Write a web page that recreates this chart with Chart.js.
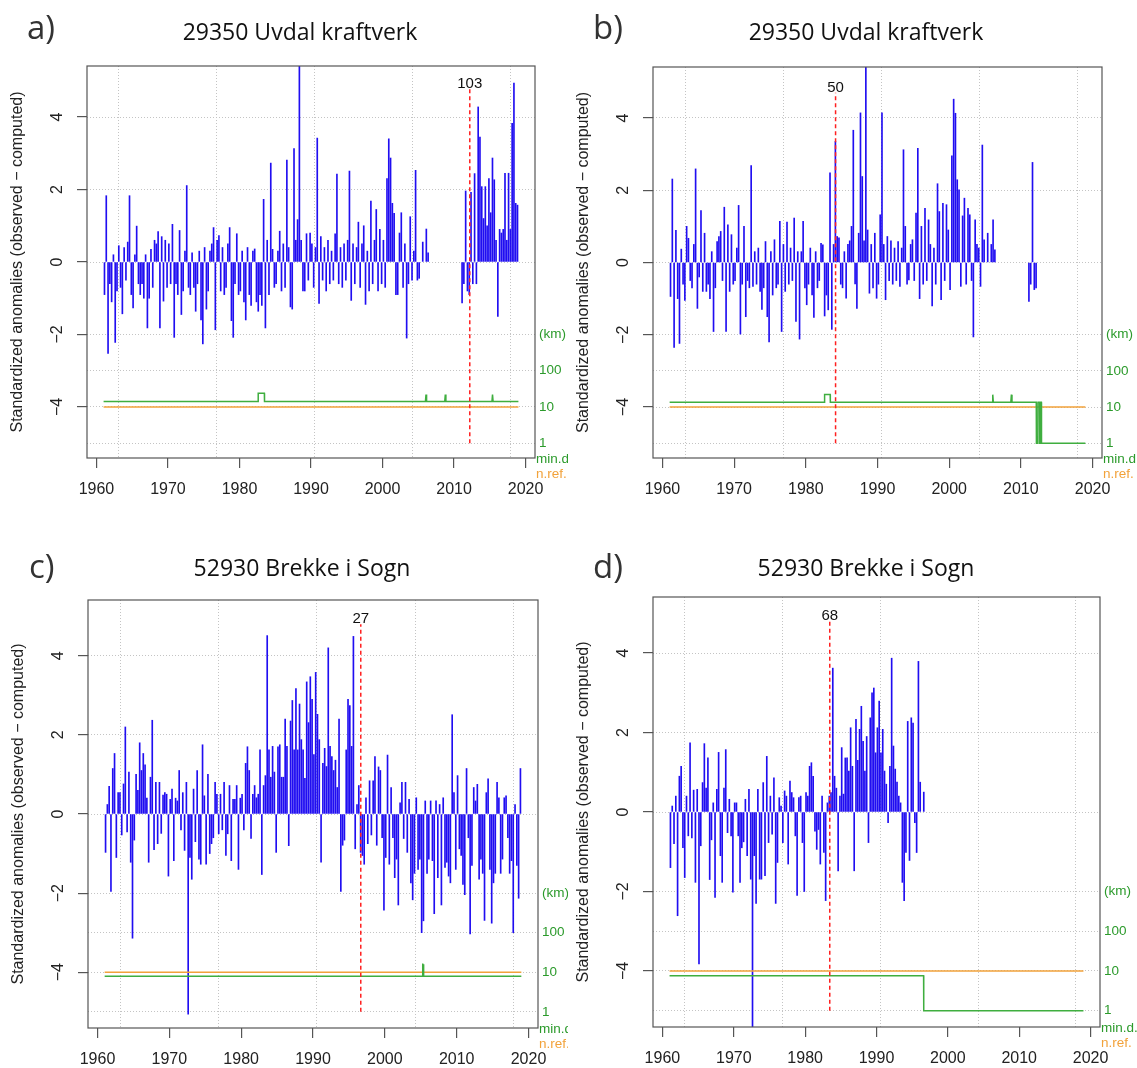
<!DOCTYPE html>
<html>
<head>
<meta charset="utf-8">
<title>Standardized anomalies</title>
<script src="https://cdn.jsdelivr.net/npm/chart.js@4.4.1/dist/chart.umd.min.js"></script>
<style>
  body { margin: 0; background: #fff; }
  #page { position: relative; width: 1137px; height: 1068px; overflow: hidden; background: #fff; }
  canvas { position: absolute; }
  .tag { position: absolute; font-family: 'Open Sans', sans-serif; font-size: 33px; line-height: 1; color: #333; }
  .ttl { position: absolute; font-family: 'Open Sans', sans-serif; font-size: 23px; line-height: 1; color: #111; white-space: nowrap; transform: translateX(-50%); }
</style>
</head>
<body>
<div id="page">
  <canvas id="cv-a" width="568" height="530" style="left:0;top:0"></canvas>
  <canvas id="cv-b" width="569" height="530" style="left:568px;top:0"></canvas>
  <canvas id="cv-c" width="568" height="538" style="left:0;top:530px"></canvas>
  <canvas id="cv-d" width="569" height="538" style="left:568px;top:530px"></canvas>

  <div class="tag" style="left:27px;top:10px">a)</div>
  <div class="ttl" style="left:300px;top:20px">29350 Uvdal kraftverk</div>
  <div class="tag" style="left:593px;top:10px">b)</div>
  <div class="ttl" style="left:866px;top:20px">29350 Uvdal kraftverk</div>
  <div class="tag" style="left:29px;top:549px">c)</div>
  <div class="ttl" style="left:302px;top:556px">52930 Brekke i Sogn</div>
  <div class="tag" style="left:593px;top:549px">d)</div>
  <div class="ttl" style="left:866px;top:556px">52930 Brekke i Sogn</div>
</div>

<script>
// ── data ─────────────────────────────────────────────
// quarterly anomalies, starting 1961 (one row = one year)
const startYear = 1961;
const perYear = 4;

const anomA = [
  -0.9, 1.83, -2.52, -0.6,   -1.1, 0.2, -2.22, -0.8,    0.45, -0.7, -1.43, 0.4,   -0.5, 0.55, 1.83, -0.9,
  -1.27, 0.2, 0.99, -0.6,    -0.9, -0.6, -1.0, 0.2,     -1.82, -1.0, 0.35, -0.7,  0.6, 0.5, 0.84, -1.82,
  0.7, -1.08, 0.6, -0.7,     0.5, -0.6, 1.04, -2.08,    -0.6, -0.9, 0.87, -1.45,  -0.8, 0.3, 2.11, -0.7,
  -0.9, 0.25, -0.7, -1.36,   -0.6, 0.3, -1.6, -2.26,    0.4, -1.3, -0.8, 0.3,     0.5, 0.95, -1.87, 0.6,
  0.73, -0.8, 0.4, -0.9,     -0.7, 0.5, 0.95, -1.62,    -2.08, -0.6, 0.78, -0.9,  -0.8, 0.3, -1.1, -1.6,
  0.4, -0.9, -1.2, 0.3,      0.36, -1.1, -1.36, -0.9,   -1.2, 1.73, -1.82, 0.6,   -0.9, 2.73, 0.35, -0.7,
  -0.6, 0.3, 0.85, -0.8,     0.5, -0.7, 2.81, 0.4,      -1.24, -1.3, 3.13, 0.6,   1.17, 5.5, 0.6, -0.8,
  -0.8, 0.78, -0.5, 0.8,     0.5, -0.7, 0.4, 3.42,      -1.14, 0.7, -0.5, 0.4,    -0.8, 0.6, -0.6, 0.3,
  -0.5, 0.78, 2.43, -0.6,    0.4, -0.7, 0.5, -0.5,      0.6, 2.51, -1.06, 0.5,    -0.6, 0.4, 1.1, -0.7,
  0.5, 1.0, -1.17, 0.3,      -0.8, 1.68, -0.6, 0.6,     1.45, -0.8, 0.9, -0.6,    0.6, -0.7, 2.3, 3.4,
  2.87, 1.62, 1.34, -0.9,    -0.9, 0.8, 1.36, -0.7,     0.5, -2.1, -0.6, 1.25,    -0.5, 0.3, 2.53, -0.5,
  -0.45, null, 0.55, null,   0.91, 0.25, null, null,
  null, null, null, null,    null, null, null, null,    null, null, null, null,   null, null, null, null,
  -1.13, -0.6, 1.96, -0.8,   -0.9, 1.92, -0.6, 2.44,    -0.6, 4.28, 3.45, 2.08,   1.2, 2.08, 1.0, 2.3,
  1.36, 2.87, 2.27, 0.6,     -1.5, 0.9, 0.8, 0.9,       2.45, 0.6, 2.45, 0.9,     3.83, 4.94, 1.62, 1.57
];

const anomB = [
  -0.94, 2.31, -2.35, 0.89,  -1.0, -2.24, 0.37, -0.6,   -1.05, 1.0, 0.67, -0.5,   -0.7, 0.5, 2.59, -1.27,
  -0.4, 1.44, -0.8, 0.81,    -0.8, -0.6, -1.0, 0.3,     -1.91, -0.7, 0.58, 0.72,  0.86, -0.5, 1.53, -1.91,
  1.04, -0.8, 0.77, -0.6,    -0.5, 0.4, 1.58, -1.98,    -0.6, 1.0, -1.5, -0.5,    -0.7, 2.68, -0.66, 0.3,
  -0.6, 0.4, -0.8, -1.3,     -0.7, 0.58, -1.5, -2.2,    0.3, -0.9, 0.63, -0.7,    -0.6, 1.14, -1.91, 0.5,
  -0.8, 1.12, -0.6, 0.4,     -0.5, 1.23, -1.63, 0.3,    -2.12, 0.3, 1.14, -0.7,   -1.17, -0.6, 0.4, -0.9,
  -1.52, 0.3, -0.7, -0.5,    0.53, 0.49, -1.48, -0.9,   -1.31, 2.48, -1.85, 0.5,  3.35, 0.72, 0.68, -0.6,
  -0.7, 0.3, -0.99, 0.5,     0.6, 1.0, 3.66, -0.59,     -1.27, 0.81, 4.14, 2.38,  0.6, 5.6, 0.9, -0.85,
  0.5, -0.7, 0.81, -0.99,    -0.6, 1.32, 4.14, 0.5,     -1.03, 0.72, -0.5, 0.6,   -0.6, 0.4, -0.5, 0.58,
  -0.66, 0.4, 3.12, 1.0,     -0.6, -0.48, 0.5, 0.63,    -0.5, 1.37, 3.16, -1.0,   1.0, -0.6, 1.5, -0.5,
  1.18, 0.5, -1.2, 0.4,      -0.6, 2.18, 1.41, -1.03,   1.64, -0.5, 1.6, 0.9,     -0.75, 2.95, 4.52, 4.13,
  2.29, 2.01, -0.66, 1.29,   1.78, -0.6, 1.5, 1.32,     -0.5, -2.06, 1.18, 0.5,   0.4, -0.66, 3.25, 0.63,
  null, 0.81, null, 0.5,     1.18, 0.35, null, null,
  null, null, null, null,    null, null, null, null,    null, null, null, null,   null, null, null, null,
  -1.08, -0.6, 2.77, -0.75,  -0.7
];

const anomC = [
  -0.97, 0.24, 0.7, -1.96,   1.15, 1.53, -1.1, 0.54,    0.54, -0.53, 0.76, 2.2,   -0.45, 1.06, -1.22, -3.14,
  -0.66, 1.0, 0.6, 1.8,      1.1, 1.53, 1.24, 0.4,      -1.22, 0.93, 2.37, -0.9,  0.8, -0.75, 0.8, -0.49,
  0.48, 0.54, 0.5, -1.57,    0.37, 0.63, -1.18, 0.4,    0.33, 1.1, -0.4, 0.54,    -0.92, 0.8, -5.06, -1.1,
  -1.65, 0.63, -0.7, 1.1,    -1.14, -1.27, 1.75, 0.46,  -1.27, 1.0, -1.0, -0.75,  -0.6, 0.8, 0.5, -0.5,
  0.5, -0.4, 0.8, -1.05,     -0.5, 0.72, -1.18, 0.37,   0.37, 0.72, -1.4, 0.4,    0.5, -0.4, 1.28, 1.7,
  1.1, -0.62, 0.5, 0.72,     0.41, 0.5, 1.62, -1.53,    0.72, 0.97, 4.51, 1.62,   0.93, 1.71, 1.06, -0.97,
  1.7, 1.75, 0.93, 0.93,     2.4, 1.71, -0.8, 2.35,     2.87, 1.62, 3.17, 1.62,   2.78, 1.88, 1.62, 0.9,
  3.34, 2.31, 3.47, 2.9,     1.5, 3.58, 2.52, 1.88,     -1.22, 1.28, 1.66, 1.2,   4.2, 1.71, 1.45, 1.1,
  1.36, 0.67, 2.4, -1.96,    -0.79, -0.66, 1.62, 2.9,   2.74, 1.71, 4.49, -0.88,  0.24, 0.72, -0.97, -1.05,
  -1.27, 0.41, -0.75, 0.84,  -0.53, 0.84, 1.45, -0.79,  1.19, 1.1, -0.6, -2.43,   -1.1, 1.49, -1.27, 0.67,
  -0.6, -1.61, -1.14, -2.3,  0.28, 0.8, -0.62, 0.8,     -0.97, 0.37, -1.74, -2.17, -1.5, 0.41, -1.4, -1.14,
  -3.0, -2.7, 0.33, -1.5,    -1.14, 0.33, -1.18, -2.52, 0.33, -1.61, 0.24, -2.3,  0.41, -1.35, -1.22, -1.57,
  -1.74, 2.51, 0.54, -1.4,   0.97, -0.88, -1.05, -1.78, -2.04, 1.15, -0.6, -3.03, -1.3, 0.67, 0.33, 0.75,
  -1.65, -1.14, -1.5, -2.69, 0.54, 0.89, -1.4, -2.76,   -1.74, -1.5, 0.8, 0.41,   -1.5, -1.14, 0.41, 0.46,
  -0.6, -1.5, -1.18, -3.0,   0.24, -1.3, -2.13, 1.15
];

const anomD = [
  -1.4, 0.15, -0.8, 0.4,     -2.61, 0.9, 1.15, -0.9,    -1.65, 0.4, -0.6, 1.74,   -0.65, 0.55, -1.77, 0.57,
  -3.82, -0.85, 0.74, 1.72,  0.6, 1.36, -1.7, -0.7,     0.23, -2.15, 0.57, 1.5,   -1.1, -1.77, 0.6, 1.57,
  -0.52, 0.32, -0.6, -2.02,  0.23, 0.23, -0.6, -1.77,   -0.9, -0.75, 0.32, -1.1,  0.57, -1.69, -5.45, -1.1,
  -2.3, 0.57, -1.69, -1.69,  0.74, -1.6, 1.4, -0.77,    0.4, -0.56, 0.86, -2.3,   -1.27, 0.36, 0.15, -0.77,
  0.53, 0.4, -1.31, 0.78,    0.49, 0.36, -0.6, -2.1,    0.36, 0.4, -0.77, -2.0,   0.49, 0.4, 1.15, 1.24,
  0.9, -0.48, -0.94, -0.44,  -1.31, 0.4, -1.02, -2.23,  0.23, 0.4, 0.49, 3.62,    0.9, 0.6, -1.48, 0.4,
  1.62, 0.45, 1.36, 1.36,    1.03, 2.12, 1.15, -1.48,   2.33, 1.3, 2.08, 2.66,    1.78, 1.03, 1.9, -0.77,
  2.37, 3.0, 3.12, 1.49,     2.12, 2.79, 1.49, 2.08,    1.03, 0.7, -0.27, 1.15,   3.87, 1.66, 1.08, 0.75,
  0.4, 0.23, -1.77, -2.23,   -1.02, 2.28, -1.22, 2.37,  2.24, -0.27, -1.02, 3.79, 0.75, null, 0.5
];

// minimum distance to references (km), right axis
const minDYearsA = [1961, 1982.6, 1982.62, 1983.48, 1983.5, 2006.0, 2006.08, 2006.16, 2008.7, 2008.78, 2008.86, 2015.3, 2015.38, 2015.46, 2019];
const minDKmA    = [14, 14, 24, 24, 14, 14, 22, 14, 14, 22, 14, 14, 22, 14, 14];
const minDYearsB = [1961, 1982.6, 1982.62, 1983.4, 1983.42, 2006.0, 2006.08, 2006.16, 2008.6, 2008.68, 2008.76,
                    2012.15, 2012.17, 2012.38, 2012.4, 2012.62, 2012.64, 2012.74, 2012.76, 2012.86, 2012.88, 2019];
const minDKmB    = [13.5, 13.5, 22.4, 22.4, 13.5, 13.5, 22, 13.5, 13.5, 22, 13.5,
                    13.5, 1, 1, 13.5, 13.5, 1, 1, 13.5, 13.5, 1, 1];
const minDYearsC = [1961, 2005.2, 2005.25, 2005.3, 2005.35, 2005.4, 2019];
const minDKmC    = [7.9, 7.9, 16.5, 12, 16, 7.9, 7.9];
const minDYearsD = [1961, 1996.6, 1996.62, 2019];
const minDKmD    = [7.6, 7.6, 1, 1];

// number of references
const nRefYears = [1961, 2019];
const nRefVals  = [10, 10];

// detected break
const breakYears  = [2012.2, 1984.15, 1996.65, 1983.45];
const breakTops   = [4.78, 4.7, 4.8, 4.8];
const breakBottom = -5;
const breakLabels = ['103', '50', '27', '68'];

// axes
const xMin = 1958.68, xMax = 2021.32;
const yMin = -5.41, yMax = 5.41;
const xTicks = [1960, 1970, 1980, 1990, 2000, 2010, 2020];
const yTicks = [-4, -2, 0, 2, 4];
const xGrid = [1970, 1983.7, 1997.4, 2011.1];
const yGrid = [4, 2, 0, -2, -3, -4, -5];
const kmTicks  = [1, 10, 100, 1000];
const kmLabels = ['1', '10', '100', '(km)'];

// ── styles ───────────────────────────────────────────
const BLUE = 'rgba(20,0,240,0.95)';
const GREEN_LINE = '#3fae3f';
const GREEN_TEXT = '#2b9a2b';
const ORANGE = '#f2a23a';
const RFONT = '"Liberation Sans", Arial, sans-serif';

const panels = [
  { id: 'a', w: 568, h: 530, box: { l: 87, t: 66, r: 535, b: 458 }, anom: anomA, mdX: minDYearsA, mdY: minDKmA, k: 0 },
  { id: 'b', w: 569, h: 530, box: { l: 85, t: 67, r: 534, b: 458 }, anom: anomB, mdX: minDYearsB, mdY: minDKmB, k: 1 },
  { id: 'c', w: 568, h: 538, box: { l: 88, t: 70, r: 538, b: 498 }, anom: anomC, mdX: minDYearsC, mdY: minDKmC, k: 2 },
  { id: 'd', w: 569, h: 538, box: { l: 85, t: 67, r: 532, b: 497 }, anom: anomD, mdX: minDYearsD, mdY: minDKmD, k: 3 }
];

// ── R-style decorations ──────────────────────────────
const rDecor = {
  id: 'rDecor',
  afterDatasetsDraw(chart, args, o) {
    const { ctx, chartArea: ca, scales } = chart;
    ctx.save();
    ctx.strokeStyle = '#555';
    ctx.lineWidth = 1.2;
    ctx.strokeRect(ca.left, ca.top, ca.right - ca.left, ca.bottom - ca.top);

    // break label
    ctx.fillStyle = '#111';
    ctx.font = '15px ' + RFONT;
    ctx.textAlign = 'center';
    ctx.textBaseline = 'alphabetic';
    ctx.fillText(o.label, scales.x.getPixelForValue(o.brk), scales.y.getPixelForValue(o.top) - 1);

    // rotated y tick labels
    ctx.fillStyle = '#222';
    ctx.font = '16px ' + RFONT;
    ctx.textBaseline = 'middle';
    yTicks.forEach(v => {
      ctx.save();
      ctx.translate(ca.left - 29, scales.y.getPixelForValue(v));
      ctx.rotate(-Math.PI / 2);
      ctx.fillText(v < 0 ? '\u2212' + Math.abs(v) : String(v), 0, 0);
      ctx.restore();
    });

    // y title
    ctx.save();
    ctx.translate(ca.left - 69, (ca.top + ca.bottom) / 2);
    ctx.rotate(-Math.PI / 2);
    ctx.fillText('Standardized anomalies (observed \u2212 computed)', 0, 0);
    ctx.restore();

    // right axis legend
    ctx.textAlign = 'left';
    ctx.textBaseline = 'alphabetic';
    ctx.font = '13.5px ' + RFONT;
    ctx.fillStyle = GREEN_TEXT;
    ctx.fillText('min.d.', ca.right + 1, ca.bottom + 5);
    ctx.fillStyle = ORANGE;
    ctx.fillText('n.ref.', ca.right + 1, ca.bottom + 20);
    ctx.restore();
  }
};

function barPoints(values) {
  const pts = [];
  values.forEach((v, i) => {
    if (v === null) return;
    pts.push({ x: startYear + (i + 0.5) / perYear, y: v });
  });
  return pts;
}

function makeChart(p) {
  const B = p.box;
  const minDist = p.mdX.map((x, i) => ({ x, y: p.mdY[i] }));
  const nRef = nRefYears.map((x, i) => ({ x, y: nRefVals[i] }));
  const brkLine = [{ x: breakYears[p.k], y: breakBottom }, { x: breakYears[p.k], y: breakTops[p.k] }];

  new Chart(document.getElementById('cv-' + p.id), {
    type: 'bar',
    data: {
      datasets: [
        { type: 'bar', data: barPoints(p.anom), backgroundColor: BLUE, barThickness: 1,
          xAxisID: 'x', yAxisID: 'y', order: 3 },
        { type: 'line', data: nRef, borderColor: ORANGE, borderWidth: 1.5, pointRadius: 0,
          xAxisID: 'x', yAxisID: 'yr', order: 2 },
        { type: 'line', data: minDist, borderColor: GREEN_LINE, borderWidth: 1.5, pointRadius: 0,
          xAxisID: 'x', yAxisID: 'yr', order: 1 },
        { type: 'line', data: brkLine, borderColor: '#ff2020', borderWidth: 1.5, borderDash: [4, 3],
          pointRadius: 0, xAxisID: 'x', yAxisID: 'y', order: 0 }
      ]
    },
    options: {
      responsive: false,
      animation: false,
      events: [],
      layout: { padding: { top: B.t, left: 0, right: 0, bottom: 0 }, autoPadding: false },
      plugins: {
        legend: { display: false },
        tooltip: { enabled: false },
        rDecor: { brk: breakYears[p.k], top: breakTops[p.k], label: breakLabels[p.k] }
      },
      scales: {
        x: {
          type: 'linear', position: 'bottom', min: xMin, max: xMax, bounds: 'data', offset: false,
          afterBuildTicks: s => { s.ticks = xTicks.map(v => ({ value: v })); },
          afterFit: s => { s.height = p.h - B.b; },
          grid: { drawOnChartArea: false, drawTicks: true, tickLength: 10, color: '#555', lineWidth: 1.2, offset: false },
          border: { display: false },
          ticks: { font: { family: RFONT, size: 16 }, color: '#222', padding: 12,
                   maxRotation: 0, autoSkip: false, callback: v => String(v) }
        },
        xg: {
          type: 'linear', position: 'top', min: xMin, max: xMax, bounds: 'data', offset: false,
          afterBuildTicks: s => { s.ticks = xGrid.map(v => ({ value: v })); },
          afterFit: s => { s.height = 0; },
          grid: { drawTicks: false, color: '#c4c4c4', lineWidth: 1 },
          border: { display: false, dash: [1, 2] },
          ticks: { display: false }
        },
        y: {
          type: 'linear', position: 'left', min: yMin, max: yMax, bounds: 'data',
          afterBuildTicks: s => { s.ticks = yTicks.map(v => ({ value: v })); },
          afterFit: s => { s.width = B.l; },
          grid: { drawOnChartArea: false, drawTicks: true, tickLength: 10, color: '#555', lineWidth: 1.2 },
          border: { display: false },
          ticks: { display: false }
        },
        yg: {
          type: 'linear', position: 'left', min: yMin, max: yMax, bounds: 'data',
          afterBuildTicks: s => { s.ticks = yGrid.map(v => ({ value: v })); },
          afterFit: s => { s.width = 0; },
          grid: { drawTicks: false, color: '#c4c4c4', lineWidth: 1 },
          border: { display: false, dash: [1, 2] },
          ticks: { display: false }
        },
        yr: {
          type: 'logarithmic', position: 'right',
          min: Math.pow(10, yMin + 5), max: Math.pow(10, yMax + 5), bounds: 'data',
          afterBuildTicks: s => { s.ticks = kmTicks.map(v => ({ value: v })); },
          afterFit: s => { s.width = p.w - B.r; },
          grid: { display: false, drawTicks: false },
          border: { display: false },
          ticks: { font: { family: RFONT, size: 13.5 }, color: GREEN_TEXT, padding: 4,
                   autoSkip: false, callback: v => kmLabels[kmTicks.indexOf(v)] }
        }
      }
    },
    plugins: [rDecor]
  });
}

panels.forEach(makeChart);
</script>
</body>
</html>
